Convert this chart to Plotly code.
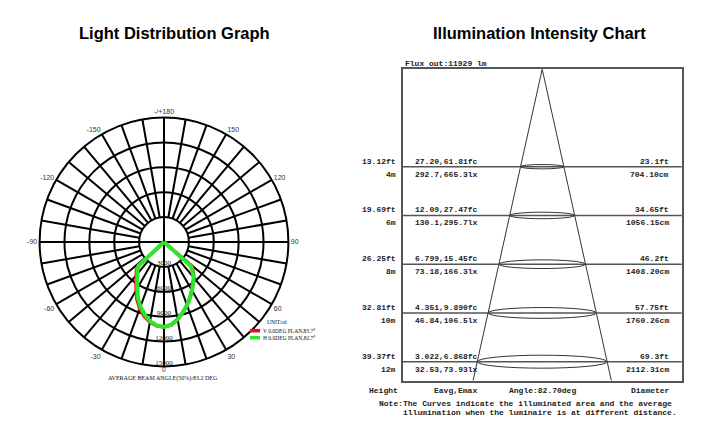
import numpy as np
import plotly.graph_objects as go

W, H = 720, 435

# ---------------- data: light distribution (cd) ----------------
theta_v = [-90, -51, -47, -45, -40, -35, -30, -25, -20, -15, -10, -5, 0,
           5, 10, 15, 20, 25, 30, 35, 40, 45, 49, 51, 90]
cd_v = [0, 0, 4300, 4700, 5200, 5900, 6700, 7700, 8550, 9250, 9800, 10150, 10250,
        10050, 9500, 8800, 8100, 7400, 6700, 6100, 5600, 4950, 4500, 0, 0]

theta_h = [-90, -50, -47, -45, -40, -35, -30, -25, -20, -15, -10, -5, 0,
           5, 10, 15, 20, 25, 30, 35, 40, 45, 48, 50, 90]
cd_h = [0, 0, 4150, 4500, 4980, 5650, 6430, 7450, 8300, 9050, 9700, 10100, 10250,
        10000, 9450, 8750, 8100, 7420, 6750, 6120, 5580, 4800, 4390, 0, 0]

ring_vals = [3000, 6000, 9000, 12000, 15000]
ring_text = ['3000', '6000', '9000', '12000', '15000']
ang_vals = [0, 30, 60, 90, 120, 150, 180, 210, 240, 270, 300, 330]
ang_text = ['', '30', '60', '90', '120', '150', '-/+180', '-150', '-120', '-90', '-60', '-30']

# ---------------- data: illumination chart ----------------
flux_lm = 11929
beam_angle = 82.70
heights_m = [4, 6, 8, 10, 12]
heights_ft = ['13.12ft', '19.69ft', '26.25ft', '32.81ft', '39.37ft']
e_fc = ['27.20,61.81fc', '12.09,27.47fc', '6.799,15.45fc', '4.351,9.890fc', '3.022,6.868fc']
e_lx = ['292.7,665.3lx', '130.1,295.7lx', '73.18,166.3lx', '46.84,106.5lx', '32.53,73.93lx']
diam_ft = ['23.1ft', '34.65ft', '46.2ft', '57.75ft', '69.3ft']
diam_cm = [704.10, 1056.15, 1408.20, 1760.26, 2112.31]


def px(x, y):
    return x / W, 1 - y / H


fig = go.Figure()

# polar grid spokes (every 10 deg, main axes through the centre)
sp_t, sp_r = [], []
for a in range(0, 360, 10):
    r0 = 0 if a % 90 == 0 else 3000
    sp_t += [a, a, None]
    sp_r += [r0, 15000, None]
fig.add_trace(go.Scatterpolar(theta=sp_t, r=sp_r, mode='lines', line=dict(color='black', width=2),
                              hoverinfo='skip', showlegend=False))

fig.add_trace(go.Scatterpolar(theta=theta_v, r=cd_v, mode='lines', line=dict(color='#e81010', width=3.5),
                              name='V', showlegend=False))
fig.add_trace(go.Scatterpolar(theta=theta_h, r=cd_h, mode='lines', line=dict(color='#2ee62e', width=4),
                              name='H', showlegend=False))
fig.add_trace(go.Scatterpolar(theta=[0] * len(ring_vals), r=ring_vals, text=ring_text, mode='text',
                              textposition='top center',
                              textfont=dict(family='Liberation Serif', size=7, color='#222'),
                              hoverinfo='skip', showlegend=False))

# illumination chart
half_depth = 12.78
half_w = half_depth * np.tan(np.radians(beam_angle / 2))
fig.add_trace(go.Scatter(x=[-half_w, 0, half_w], y=[half_depth, 0, half_depth], mode='lines',
                         line=dict(color='#333', width=1), hoverinfo='skip', showlegend=False))

shapes = []
for h, d in zip(heights_m, diam_cm):
    rad = d / 200
    shapes.append(dict(type='line', xref='x domain', yref='y', x0=0, x1=1, y0=h, y1=h,
                       line=dict(color='#555', width=1.5)))
    shapes.append(dict(type='circle', xref='x', yref='y', x0=-rad, x1=rad,
                       y0=h - 0.0252 * rad, y1=h + 0.0252 * rad, line=dict(color='#333', width=1)))

# legend samples
for yy, col in [(330.7, '#e81010'), (337.7, '#2ee62e')]:
    x0, y0 = px(250, yy)
    x1, _ = px(260, yy)
    shapes.append(dict(type='line', xref='paper', yref='paper', x0=x0, x1=x1, y0=y0, y1=y0,
                       line=dict(color=col, width=3.5)))

mono = dict(family='Liberation Mono', size=8, color='#222', weight='bold')
ann = []


def text_at(x, y, s, font, xa='center', ya='middle'):
    xx, yy = px(x, y)
    ann.append(dict(x=xx, y=yy, xref='paper', yref='paper', text=s, showarrow=False,
                    xanchor=xa, yanchor=ya, font=font))


for i, h in enumerate(heights_m):
    for xx, xa, top, bot in [(398, 'right', heights_ft[i], f'{h}m'),
                             (413, 'left', e_fc[i], e_lx[i]),
                             (671, 'right', diam_ft[i], f'{diam_cm[i]:.2f}cm')]:
        ann.append(dict(x=xx / W, y=h, xref='paper', yref='y', text=top, showarrow=False,
                        xanchor=xa, yanchor='bottom', font=mono, yshift=-1))
        ann.append(dict(x=xx / W, y=h, xref='paper', yref='y', text=bot, showarrow=False,
                        xanchor=xa, yanchor='top', font=mono, yshift=-1))

text_at(403, 63, f'Flux out:{flux_lm} lm', mono, xa='left')
text_at(383, 390, 'Height', mono)
text_at(455, 390, 'Eavg,Emax', mono)
text_at(542, 390, f'Angle:{beam_angle:.2f}deg', mono)
text_at(650, 390, 'Diameter', mono)
text_at(377, 403, 'Note:The Curves indicate the illuminated area and the average', mono, xa='left')
text_at(401, 412.5, 'illumination when the luminaire is at different distance.', mono, xa='left')

title_font = dict(family='Liberation Sans', size=16.5, color='black', weight='bold')
text_at(174, 33, 'Light Distribution Graph', title_font)
text_at(539, 33, 'Illumination Intensity Chart', title_font)

serif = dict(family='Liberation Serif', size=5.5, color='#111')
text_at(277, 322, 'UNIT:cd', serif)
text_at(261, 330.7, 'V 0.0DEG PLAN,83.7°', serif, xa='left')
text_at(261, 337.7, 'H 0.0DEG PLAN,82.7°', serif, xa='left')
text_at(164, 369.5, '0', dict(family='Liberation Sans', size=6.5, color='#333'))
text_at(163, 378.5, 'AVERAGE BEAM ANGLE(50%):83.2 DEG', dict(family='Liberation Serif', size=6, color='#111'))

cx, cy, R = 164, 242, 124.4
fig.update_layout(
    width=W, height=H,
    margin=dict(l=0, r=0, t=0, b=0),
    paper_bgcolor='white', plot_bgcolor='white',
    showlegend=False,
    polar=dict(
        domain=dict(x=[(cx - R) / W, (cx + R) / W], y=[1 - (cy + R) / H, 1 - (cy - R) / H]),
        bgcolor='white',
        radialaxis=dict(range=[0, 15000], tickvals=ring_vals[:-1], showticklabels=False, ticks='',
                        showline=False, gridcolor='black', gridwidth=2),
        angularaxis=dict(rotation=270, direction='counterclockwise', tickmode='array',
                         tickvals=ang_vals, ticktext=ang_text, showgrid=False, ticks='',
                         showline=True, linecolor='black', linewidth=2,
                         tickfont=dict(family='Liberation Sans', size=7, color='#333')),
    ),
    xaxis=dict(domain=[402.7 / W, 681.7 / W], range=[-22.68, 22.68], showgrid=False, zeroline=False,
               showticklabels=False, ticks='', showline=True, mirror=True, linecolor='#555', linewidth=1.5),
    yaxis=dict(domain=[1 - 380.7 / H, 1 - 69.2 / H], range=[half_depth, 0], showgrid=False, zeroline=False,
               showticklabels=False, ticks='', showline=True, mirror=True, linecolor='#555', linewidth=1.5),
    shapes=shapes,
    annotations=ann,
)

# page body has an 8px default margin; drop it so the figure fills the window
fig.write_html("out.html", config={'displayModeBar': False},
               post_script="document.body.style.margin='0px';")
